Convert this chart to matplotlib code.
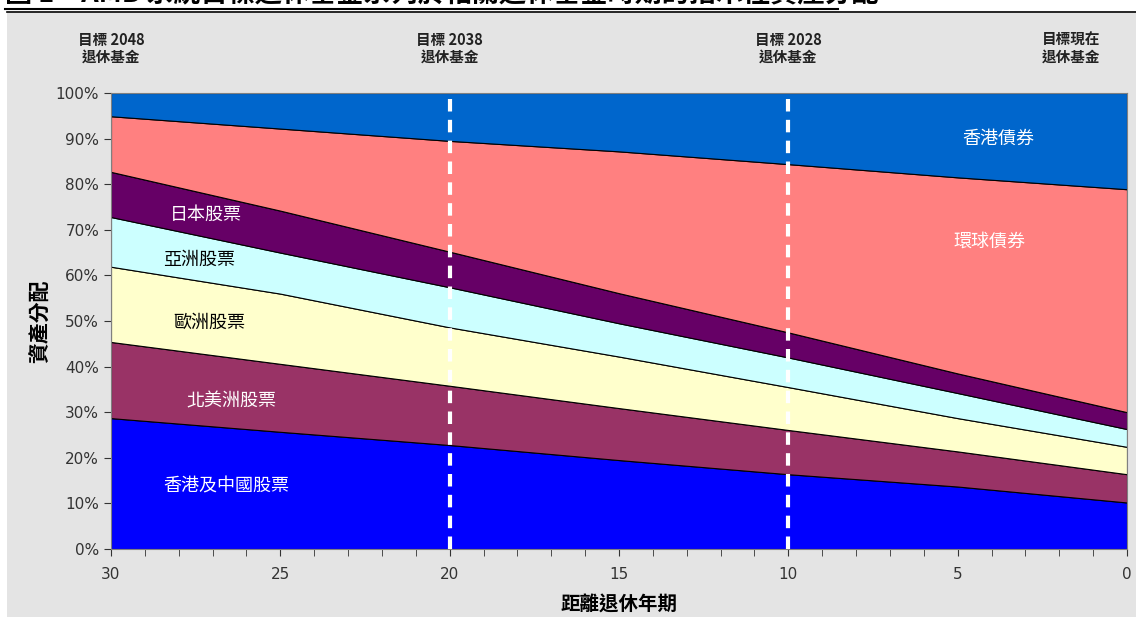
import numpy as np
import matplotlib
matplotlib.use("Agg")
import matplotlib.pyplot as plt
from matplotlib.lines import Line2D
from matplotlib.patches import Rectangle
from matplotlib.ticker import MultipleLocator, FuncFormatter

plt.rcParams['font.family'] = ['DejaVu Sans', 'Noto Sans CJK TC']
CJK = ['Noto Sans CJK TC', 'DejaVu Sans']

# years to retirement
years = [30, 25, 20, 15, 10, 5, 0]

# allocation (%) of each asset class, bottom to top
hk_china_eq = [28.7, 25.7, 22.8, 19.5, 16.4, 13.7, 10.2]
n_america_eq = [16.7, 14.9, 13.0, 11.4, 9.7, 7.7, 6.2]
europe_eq = [16.5, 15.4, 12.8, 11.3, 9.4, 7.3, 6.0]
asia_eq = [10.9, 9.0, 8.8, 7.3, 6.5, 5.5, 3.9]
japan_eq = [9.9, 9.2, 7.8, 6.6, 5.5, 4.3, 3.7]
global_bond = [12.2, 18.0, 24.3, 31.1, 36.9, 43.0, 48.9]
hk_bond = [5.1, 7.8, 10.5, 12.8, 15.6, 18.5, 21.1]

names = ['香港及中國股票', '北美洲股票', '歐洲股票', '亞洲股票', '日本股票', '環球債券', '香港債券']
colors = ['#0000FF', '#993366', '#FFFFCC', '#CCFFFF', '#660066', '#FF8080', '#0066CC']

fund_years = [30, 20, 10, 1.65]
fund_labels = ['目標 2048\n退休基金', '目標 2038\n退休基金', '目標 2028\n退休基金', '目標現在\n退休基金']

fig = plt.figure(figsize=(11.36, 6.17), dpi=100)
fig.patch.set_facecolor('white')
fig.patches.append(Rectangle((7 / 1136, 0), 1, 1 - 13 / 617, transform=fig.transFigure,
                             facecolor='#E4E4E4', edgecolor='none', zorder=-10))
fig.lines.append(Line2D([7 / 1136, 1], [1 - 12 / 617, 1 - 12 / 617], transform=fig.transFigure,
                        color='black', lw=1.2))

# title at the very top (cut by the page edge in the source)
fig.text(5 / 1136, 1 - 8 / 617, '圖 1 – AMB 系統目標退休基金系列於相關退休基金時期的指示性資產分配',
         family=CJK, fontsize=19.5, va='bottom', ha='left', fontweight='bold')
fig.lines.append(Line2D([5 / 1136, 838 / 1136], [1 - 9 / 617, 1 - 9 / 617], transform=fig.transFigure,
                        color='black', lw=1.5))

ax = fig.add_axes([111 / 1136, 1 - 549 / 617, 1016 / 1136, 456 / 617])
series = [hk_china_eq, n_america_eq, europe_eq, asia_eq, japan_eq, global_bond, hk_bond]
ax.stackplot(years, *series, colors=colors, edgecolor='black', linewidth=0.8)

for yr in [20, 10]:
    ax.axvline(yr, color='white', lw=3, ls=(0, (3, 2)), zorder=5)

ax.set_xlim(30, 0)
ax.set_ylim(0, 100)
ax.xaxis.set_major_locator(MultipleLocator(5))
ax.xaxis.set_minor_locator(MultipleLocator(1))
ax.yaxis.set_major_locator(MultipleLocator(10))
ax.yaxis.set_major_formatter(FuncFormatter(lambda v, p: f'{v:.0f}%'))
ax.tick_params(axis='both', which='both', direction='out', colors='#333333', labelsize=11)
ax.tick_params(axis='x', which='both', length=5, pad=8)
ax.tick_params(axis='y', length=5)
for s in ax.spines.values():
    s.set_color('#808080')

# series labels inside areas
label_pos = [(26.6, 13.8, 'white'), (26.45, 32.3, 'white'), (27.1, 49.6, 'black'),
             (27.4, 63.4, 'black'), (27.2, 73.3, 'white'), (4.05, 67.4, 'white'), (3.8, 90.0, 'white')]
for name, (lx, ly, c) in zip(names, label_pos):
    ax.text(lx, ly, name, family=CJK, fontsize=13, style='italic', color=c,
            ha='center', va='center', zorder=6)

for fx, fl in zip(fund_years, fund_labels):
    ax.text(fx, 106.3, fl, family=CJK, fontsize=10.5, fontweight='bold', color='#222222',
            ha='center', va='bottom', linespacing=1.0)

ax.set_ylabel('資產分配', family=CJK, fontsize=15, fontweight='bold', labelpad=4)
ax.set_xlabel('距離退休年期', family=CJK, fontsize=14, fontweight='bold', labelpad=10)

fig.savefig('out.png', dpi=100, facecolor=fig.get_facecolor())
